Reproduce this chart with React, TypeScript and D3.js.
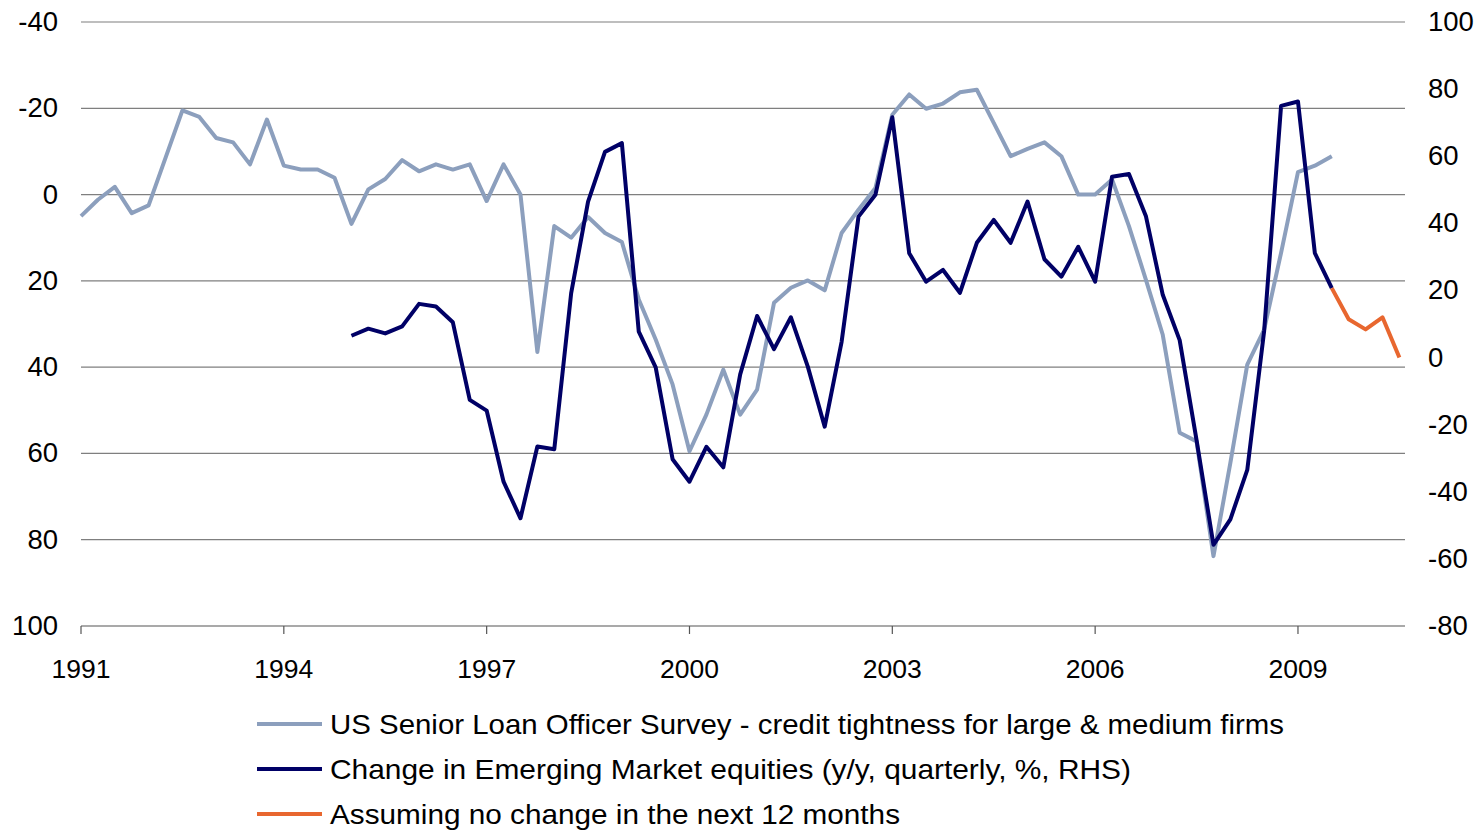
import React from 'react';
import * as d3 from 'd3';

// quarterly data, first quarter 1991
const startYear = 1991;

// US Senior Loan Officer Survey (left axis, inverted), 1991Q1 - 2009Q3
const loanSurvey = [
  5.0, 1.2, -1.8, 4.3, 2.5, -8.5, -19.5, -18.0, -13.1, -12.1,
  -7.0, -17.4, -6.7, -5.8, -5.8, -3.9, 6.8, -1.2, -3.6, -8.0,
  -5.4, -7.0, -5.8, -7.0, 1.5, -7.0, 0, 36.5, 7.3, 10.0,
  5.2, 8.9, 11.0, 24.3, 33.6, 44.0, 59.5, 51.0, 40.6, 51.0,
  45.2, 25.1, 21.6, 19.9, 22.2, 8.9, 3.5, -1.5, -18.5, -23.2,
  -19.9, -21.1, -23.7, -24.3, -16.6, -8.9, -10.6, -12.1, -8.9, 0,
  0, -3.5, 7.3, 19.7, 32.5, 55.2, 57.2, 83.8, 62.2, 39.4,
  31.3, 13.5, -5.2, -6.7, -8.9,
];

// EM equities y/y % (right axis), 1995Q1 - 2009Q3
const emStart = 16;
const emEquities = [
  6.5, 8.6, 7.2, 9.3, 16.0, 15.2, 10.5, -12.6, -15.8, -37.0,
  -47.9, -26.5, -27.3, 19.2, 46.5, 61.3, 63.9, 7.7, -2.9, -30.3,
  -37.0, -26.6, -32.7, -5.0, 12.4, 2.5, 12.0, -2.7, -20.6, 4.7,
  42.0, 48.5, 71.6, 31.1, 22.6, 26.1, 19.3, 34.2, 41.0, 34.2,
  46.5, 29.3, 24.1, 33.0, 22.6, 53.9, 54.7, 42.2, 18.7, 5.2,
  -24.6, -55.8, -48.2, -33.5, 8.0, 75.0, 76.3, 31.1, 20.7,
];

// projection, 2009Q3 - 2010Q3
const projStart = 74;
const projection = [20.7, 11.4, 8.4, 12.0, 0];

const yearTicks = [1991, 1994, 1997, 2000, 2003, 2006, 2009];
const leftTicks = [-40, -20, 0, 20, 40, 60, 80, 100];
const rightTicks = [100, 80, 60, 40, 20, 0, -20, -40, -60, -80];

const legendLabels = [
  'US Senior Loan Officer Survey - credit tightness for large & medium firms',
  'Change in Emerging Market equities (y/y, quarterly, %, RHS)',
  'Assuming no change in the next 12 months',
];

// styling
const colors = ['#8c9fbd', '#000066', '#e8672f'];
const legendWidths = [954, 801, 570];
const W = 1479;
const H = 830;
const left = 81;
const right = 1405;
const top = 22;
const bottom = 626;
const font = '"Liberation Sans", Arial, sans-serif';

export default function App() {
  const x = d3.scaleLinear().domain([1991, 2010.583]).range([left, right]);
  const yL = d3.scaleLinear().domain([-40, 100]).range([top, bottom]);
  const yR = d3.scaleLinear().domain([100, -80]).range([top, bottom]);
  const q = (i: number) => x(startYear + i / 4);

  const lineL = d3.line<number>().x((d, i) => q(i)).y((d) => yL(d));
  const lineEm = d3.line<number>().x((d, i) => q(i + emStart)).y((d) => yR(d));
  const lineProj = d3.line<number>().x((d, i) => q(i + projStart)).y((d) => yR(d));

  return (
    <svg width={W} height={H} style={{ position: 'absolute', left: 0, top: 0, background: '#fff' }}
      fontFamily={font}>
      {leftTicks.slice(0, -1).map((t) => (
        <line key={t} x1={left} x2={right} y1={yL(t)} y2={yL(t)} stroke="#7f7f7f" strokeWidth={1.2} />
      ))}
      <line x1={left} x2={right} y1={bottom} y2={bottom} stroke="#555" strokeWidth={1.2} />
      {yearTicks.map((t) => (
        <g key={t}>
          <line x1={x(t)} x2={x(t)} y1={bottom} y2={bottom + 8} stroke="#555" strokeWidth={1.2} />
          <text x={x(t)} y={678} fontSize={26.5} textAnchor="middle" fill="#000">{t}</text>
        </g>
      ))}
      {leftTicks.map((t) => (
        <text key={t} x={58} y={yL(t) + 9} fontSize={27.5} textAnchor="end" fill="#000">{t}</text>
      ))}
      {rightTicks.map((t) => (
        <text key={t} x={1428} y={yR(t) + 9} fontSize={27.5} textAnchor="start" fill="#000">{t}</text>
      ))}
      <path d={lineL(loanSurvey) ?? ''} fill="none" stroke={colors[0]} strokeWidth={4} strokeLinejoin="round" />
      <path d={lineEm(emEquities) ?? ''} fill="none" stroke={colors[1]} strokeWidth={4} strokeLinejoin="round" />
      <path d={lineProj(projection) ?? ''} fill="none" stroke={colors[2]} strokeWidth={4} strokeLinejoin="round" />
      {legendLabels.map((label, i) => (
        <g key={label} transform={`translate(0, ${724 + i * 45})`}>
          <line x1={257} x2={322} y1={0} y2={0} stroke={colors[i]} strokeWidth={4} />
          <text x={330} y={10} fontSize={27.5} fill="#000" textLength={legendWidths[i]}
            lengthAdjust="spacingAndGlyphs">{label}</text>
        </g>
      ))}
    </svg>
  );
}
